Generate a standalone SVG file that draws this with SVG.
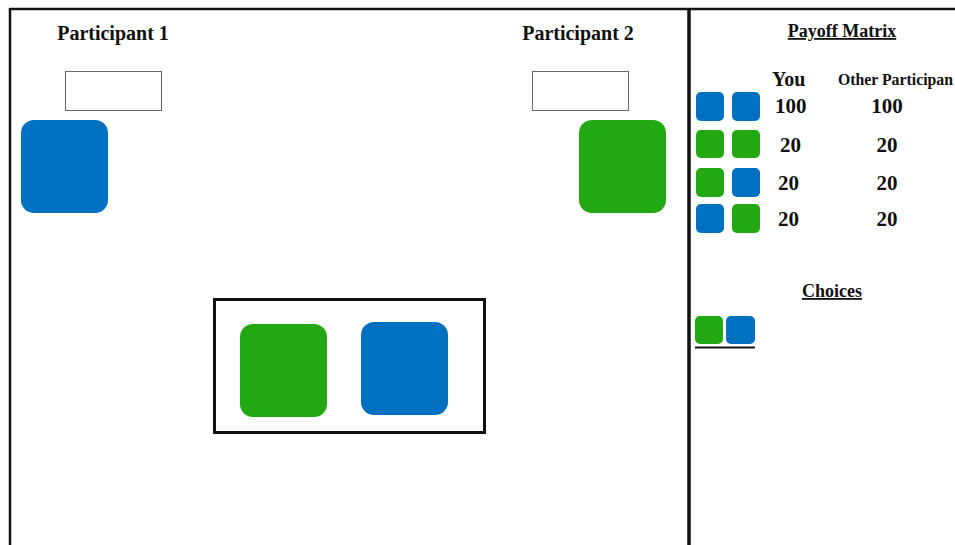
<svg xmlns="http://www.w3.org/2000/svg" width="955" height="545" viewBox="0 0 955 545">
<style>
.t{font-family:"Liberation Serif","Times New Roman",serif;font-weight:bold;fill:#111}
.blue{fill:#0070C0}
.green{fill:#22A812}
.frame{fill:none;stroke:#111}
</style>
<rect width="955" height="545" fill="#fff"/>
<g id="frame">
<line x1="10" y1="9" x2="955" y2="9" stroke="#111" stroke-width="2.5"/>
<line x1="10" y1="8" x2="10" y2="545" stroke="#111" stroke-width="2.5"/>
<line x1="689" y1="9" x2="689" y2="545" stroke="#111" stroke-width="3.5"/>
</g>
<g id="p1">
<text class="t" x="113" y="40" font-size="20" text-anchor="middle">Participant 1</text>
<rect x="65.5" y="71.5" width="96" height="39" fill="#fff" stroke="#666" stroke-width="1"/>
<rect class="blue" x="21" y="120" width="87" height="93" rx="13"/>
</g>
<g id="p2">
<text class="t" x="578" y="40" font-size="20" text-anchor="middle">Participant 2</text>
<rect x="532.5" y="71.5" width="96" height="39" fill="#fff" stroke="#666" stroke-width="1"/>
<rect class="green" x="579" y="120" width="87" height="93" rx="13"/>
</g>
<g id="center">
<rect x="214.5" y="299.5" width="270" height="133" class="frame" stroke-width="3"/>
<rect class="green" x="240" y="324" width="87" height="93" rx="13"/>
<rect class="blue" x="361" y="322" width="87" height="93" rx="13"/>
</g>
<g id="payoff">
<text class="t" x="842" y="37" font-size="18" text-anchor="middle" text-decoration="underline">Payoff Matrix</text>
<text class="t" x="772" y="86" font-size="20">You</text>
<text class="t" x="838" y="85" font-size="16" textLength="115" lengthAdjust="spacingAndGlyphs">Other Participan</text>
<rect class="blue" x="696" y="92" width="28" height="29" rx="5"/>
<rect class="blue" x="732" y="92" width="28" height="29" rx="5"/>
<rect class="green" x="696" y="130" width="28" height="28" rx="5"/>
<rect class="green" x="732" y="130" width="28" height="28" rx="5"/>
<rect class="green" x="696" y="168" width="28" height="29" rx="5"/>
<rect class="blue" x="732" y="168" width="28" height="29" rx="5"/>
<rect class="blue" x="696" y="204" width="28" height="29" rx="5"/>
<rect class="green" x="732" y="204" width="28" height="29" rx="5"/>
<text class="t" x="775" y="113" font-size="21">100</text>
<text class="t" x="887" y="113" font-size="21" text-anchor="middle">100</text>
<text class="t" x="780" y="152" font-size="21">20</text>
<text class="t" x="887" y="152" font-size="21" text-anchor="middle">20</text>
<text class="t" x="778" y="190" font-size="21">20</text>
<text class="t" x="887" y="190" font-size="21" text-anchor="middle">20</text>
<text class="t" x="778" y="226" font-size="21">20</text>
<text class="t" x="887" y="226" font-size="21" text-anchor="middle">20</text>
</g>
<g id="choices">
<text class="t" x="832" y="297" font-size="18" text-anchor="middle" text-decoration="underline">Choices</text>
<rect class="green" x="695" y="316" width="28" height="28" rx="5"/>
<rect class="blue" x="726" y="316" width="29" height="28" rx="5"/>
<line x1="695" y1="347.5" x2="755" y2="347.5" stroke="#111" stroke-width="2"/>
</g>
</svg>
